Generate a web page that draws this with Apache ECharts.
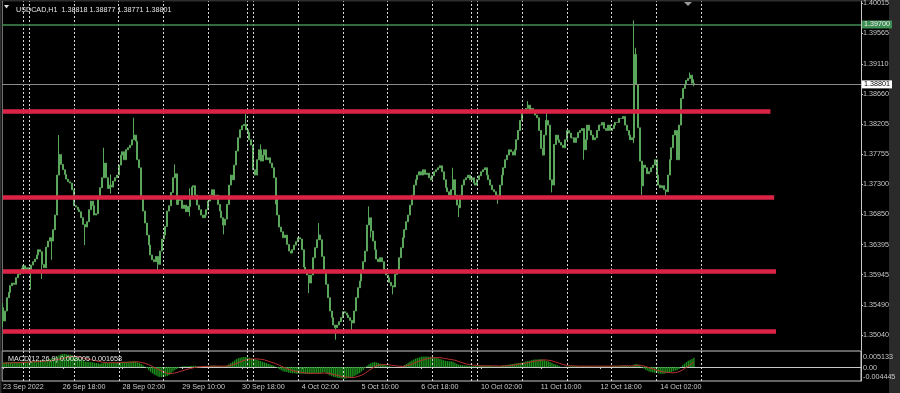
<!DOCTYPE html>
<html><head><meta charset="utf-8">
<script src="https://cdn.jsdelivr.net/npm/echarts@6/dist/echarts.min.js"></script>
<style>html,body{margin:0;padding:0;background:#000;}#c{width:900px;height:393px;}</style>
</head><body><div id="c"></div>
<script>
// ---------------- data ----------------
const symbolName = 'USDCAD,H1';
const firstBarTime = '2022-09-23T10:00:00Z';   // first visible H1 bar (broker GMT)
const firstOpen = 1.3545;
const closes = [
1.3525,1.3540,1.3560,1.3568,1.3578,1.3582,1.3580,1.3590,1.3595,1.3598,
1.3604,1.3608,1.3602,1.3605,1.3598,1.3609,1.3614,1.3618,1.3624,1.3632,
1.3629,1.3610,1.3605,1.3636,1.3645,1.3650,1.3645,1.3662,1.3684,1.3744,
1.3775,1.3760,1.3752,1.3745,1.3738,1.3734,1.3732,1.3722,1.3698,1.3696,
1.3692,1.3689,1.3680,1.3670,1.3666,1.3674,1.3692,1.3705,1.3698,1.3684,
1.3686,1.3712,1.3725,1.3740,1.3762,1.3740,1.3724,1.3729,1.3726,1.3735,
1.3740,1.3744,1.3759,1.3774,1.3779,1.3767,1.3782,1.3785,1.3789,1.3797,
1.3804,1.3795,1.3767,1.3755,1.3712,1.3690,1.3672,1.3654,1.3639,1.3624,
1.3617,1.3614,1.3622,1.3610,1.3630,1.3648,1.3654,1.3667,1.3690,1.3698,
1.3718,1.3740,1.3746,1.3700,1.3712,1.3706,1.3694,1.3699,1.3689,1.3697,
1.3712,1.3726,1.3728,1.3714,1.3699,1.3692,1.3684,1.3680,1.3684,1.3692,
1.3705,1.3714,1.3722,1.3708,1.3714,1.3700,1.3690,1.3680,1.3669,1.3678,
1.3700,1.3729,1.3744,1.3737,1.3759,1.3780,1.3800,1.3812,1.3818,1.3820,
1.3812,1.3808,1.3797,1.3789,1.3752,1.3744,1.3767,1.3782,1.3765,1.3774,
1.3782,1.3767,1.3770,1.3762,1.3755,1.3740,1.3710,1.3684,1.3666,1.3659,
1.3650,1.3654,1.3640,1.3630,1.3627,1.3632,1.3639,1.3644,1.3650,1.3648,
1.3632,1.3606,1.3599,1.3594,1.3582,1.3594,1.3620,1.3635,1.3647,1.3654,
1.3647,1.3622,1.3598,1.3580,1.3560,1.3540,1.3530,1.3519,1.3515,1.3519,
1.3524,1.3530,1.3539,1.3537,1.3534,1.3530,1.3526,1.3522,1.3540,1.3560,
1.3575,1.3585,1.3600,1.3614,1.3630,1.3669,1.3680,1.3660,1.3645,1.3632,
1.3618,1.3614,1.3620,1.3614,1.3602,1.3594,1.3590,1.3583,1.3578,1.3576,
1.3595,1.3602,1.3620,1.3635,1.3650,1.3662,1.3674,1.3684,1.3699,1.3714,
1.3729,1.3737,1.3744,1.3749,1.3744,1.3752,1.3745,1.3747,1.3740,1.3737,
1.3743,1.3749,1.3752,1.3755,1.3758,1.3749,1.3737,1.3725,1.3719,1.3714,
1.3722,1.3737,1.3714,1.3699,1.3695,1.3714,1.3729,1.3737,1.3740,1.3744,
1.3737,1.3740,1.3732,1.3729,1.3737,1.3743,1.3749,1.3752,1.3755,1.3744,
1.3737,1.3729,1.3722,1.3719,1.3714,1.3710,1.3729,1.3744,1.3755,1.3767,
1.3774,1.3782,1.3779,1.3774,1.3782,1.3797,1.3811,1.3826,1.3838,1.3841,
1.3844,1.3849,1.3841,1.3844,1.3838,1.3834,1.3830,1.3811,1.3784,1.3774,
1.3804,1.3826,1.3819,1.3737,1.3729,1.3790,1.3804,1.3797,1.3793,1.3789,
1.3785,1.3797,1.3811,1.3807,1.3800,1.3800,1.3793,1.3800,1.3808,1.3811,
1.3814,1.3782,1.3797,1.3819,1.3811,1.3804,1.3797,1.3800,1.3811,1.3819,
1.3819,1.3823,1.3814,1.3811,1.3819,1.3811,1.3814,1.3819,1.3823,1.3823,
1.3829,1.3829,1.3832,1.3819,1.3811,1.3804,1.3797,1.3800,1.3925,1.3880,
1.3815,1.3765,1.3728,1.3759,1.3755,1.3746,1.3749,1.3755,1.3759,1.3767,
1.3744,1.3729,1.3725,1.3728,1.3722,1.3719,1.3744,1.3767,1.3785,1.3804,
1.3811,1.3767,1.3819,1.3859,1.3874,1.3880,1.3886,1.3889,1.3894,1.38818,
1.38801
];
// notable wick extremes: [barIndex, high, low]
const wicks = [
[0,1.3552,1.3516],[15,null,1.3572],[21,null,1.3588],[26,null,1.3617],[30,1.3804,null],
[44,null,1.3639],[54,1.3785,null],[58,1.3745,1.3716],[70,1.3830,null],[83,null,1.3600],
[92,1.3760,null],[100,1.3724,1.3682],[118,null,1.3655],[130,1.3836,null],[138,1.3790,null],
[146,null,1.3700],[164,null,1.3567],[169,1.3672,null],[178,null,1.3497],[187,null,1.3508],
[196,1.3697,null],[197,null,1.3650],[209,null,1.3565],[241,1.3755,null],[244,null,1.3681],
[265,null,1.3701],[281,1.3855,null],[291,1.3838,null],[294,null,1.3718],[311,null,1.3767],
[338,1.3976,1.3792],[339,1.3935,null],[342,null,1.3714],[355,null,1.3711],[368,1.3898,null],
[370,1.38877,1.38771]
];
// MACD(12,26,9) main and signal, in units of 0.0001
const macdMain = [
15,15,16,16,16,17,17,16,16,16,
17,17,18,18,18,19,19,20,20,21,
22,22,21,22,24,26,27,28,30,34,
38,40,42,42,41,40,39,38,36,33,
30,27,24,21,18,17,17,16,15,14,
13,12,11,12,13,13,13,13,14,14,
14,15,16,16,17,17,17,17,18,18,
19,18,16,13,10,6,1,-4,-10,-15,
-20,-24,-27,-30,-32,-32,-31,-30,-28,-25,
-20,-14,-9,-6,-3,0,2,3,3,3,
3,4,4,4,3,3,3,3,3,4,
4,4,4,4,4,3,3,2,2,3,
5,9,13,17,21,25,28,30,31,32,
32,31,30,28,26,25,23,21,19,17,
15,13,11,9,7,4,1,-3,-7,-10,
-13,-15,-16,-18,-19,-20,-20,-21,-21,-21,
-21,-21,-22,-22,-22,-21,-20,-19,-19,-20,
-20,-18,-16,-19,-23,-26,-29,-31,-32,-34,
-35,-36,-37,-37,-36,-35,-34,-32,-29,-26,
-23,-19,-14,-9,-3,4,9,12,15,16,
15,13,11,9,8,6,4,3,1,0,
0,0,0,1,3,6,10,14,18,21,
24,27,29,31,33,34,34,34,33,33,
32,31,30,28,26,24,22,20,19,19,
19,17,14,11,8,7,6,5,5,4,
4,4,3,3,3,4,4,4,4,4,
4,4,3,3,3,3,3,4,5,6,
7,8,9,10,11,12,13,14,15,16,
18,19,20,22,23,24,24,25,25,24,
22,20,19,16,13,10,8,6,3,1,
0,1,2,2,3,3,3,3,3,3,
3,3,3,3,3,2,2,3,3,3,
3,3,3,3,3,3,3,4,4,4,
4,4,4,4,4,3,3,3,8,10,
8,5,1,-4,-8,-11,-14,-16,-17,-18,
-19,-20,-21,-21,-21,-20,-19,-17,-16,-13,
-11,-10,-6,0,6,11,16,20,23,26,
30.05
];
const macdSignal = [
12,12,13,13,13,14,14,14,14,15,
15,15,15,16,16,16,17,17,17,18,
18,19,19,20,20,21,21,22,23,24,
25,26,28,30,31,32,33,33,34,34,
33,32,31,29,27,26,25,23,22,21,
20,18,17,16,15,15,14,14,14,14,
14,14,14,15,15,15,15,16,16,16,
16,17,17,16,15,14,12,10,8,5,
2,-1,-4,-7,-10,-13,-15,-18,-20,-21,
-21,-20,-19,-18,-16,-14,-12,-10,-8,-6,
-5,-3,-2,-1,0,0,1,1,2,2,
2,3,3,3,3,3,3,3,3,3,
3,4,5,7,9,11,14,16,19,21,
23,24,25,26,26,26,26,26,25,24,
23,21,19,17,15,13,11,9,6,3,
0,-2,-5,-7,-9,-11,-13,-14,-15,-16,
-17,-18,-19,-19,-20,-20,-20,-20,-20,-20,
-20,-20,-19,-19,-20,-21,-22,-23,-25,-26,
-28,-29,-31,-32,-32,-33,-33,-33,-33,-32,
-30,-28,-26,-23,-20,-16,-11,-7,-3,1,
4,6,7,8,8,8,8,7,6,5,
4,3,3,2,2,3,4,5,7,9,
12,14,17,19,21,24,25,27,28,29,
30,30,30,30,30,29,28,27,26,25,
24,23,22,20,18,16,14,12,10,9,
8,7,6,5,5,4,4,4,4,4,
4,4,4,4,4,4,3,3,4,4,
4,5,5,6,7,8,9,10,11,12,
13,14,15,17,18,19,20,21,22,23,
23,22,22,21,20,18,16,14,12,10,
8,7,5,4,4,4,4,3,3,3,
3,3,3,3,3,3,3,3,3,3,
3,3,3,3,3,3,3,3,3,3,
3,3,4,4,4,4,4,4,4,5,
6,6,5,4,2,0,-2,-4,-6,-8,
-10,-12,-13,-15,-16,-17,-17,-18,-18,-18,
-18,-17,-15,-13,-9,-5,-1,3,7,11,
16.58
];
const xTickLabels = ['23 Sep 2022','26 Sep 18:00','28 Sep 02:00','29 Sep 10:00','30 Sep 18:00','4 Oct 02:00',
  '5 Oct 10:00','6 Oct 18:00','10 Oct 02:00','11 Oct 10:00','12 Oct 18:00','14 Oct 02:00'];
const xTickEvery = 32;
const yTickValues = [1.40015,1.39565,1.39110,1.38660,1.38205,1.37755,1.37300,1.36850,1.36395,1.35945,1.35490,1.35040];
const macdTickValues = [0.005133, 0, -0.004445];
const supportLevels = [1.3840, 1.3710, 1.3600, 1.3510];
const supportEndBars = [411, 413, 414, 414];
const alertLevel = 1.39700;

// ---------------- build ----------------
const FONT = 'Liberation Sans';
const TXT = '#c8c8c8';
const totalSlots = 460;
const H = 3600e3;
const lastIdx = closes.length - 1;
const times = [];
let t = Date.parse(firstBarTime);
for (let i = 0; i < totalSlots; i++) {
  times.push(t);
  t += H;
  const d = new Date(t);
  if (i < lastIdx && d.getUTCDay() === 5 && d.getUTCHours() === 21) t += 48 * H; // weekend gap
}
const cats = times.map(v => new Date(v).toISOString().slice(0, 16).replace('T', ' '));
const daySeps = [];
for (let i = 1; i < totalSlots; i++) {
  if (new Date(times[i]).getUTCDate() !== new Date(times[i - 1]).getUTCDate() && i <= lastIdx + 24) daySeps.push(i);
}
const wickMap = {};
wicks.forEach(w => { wickMap[w[0]] = w; });
const candles = closes.map((c, i) => {
  const o = i === 0 ? firstOpen : closes[i - 1];
  let h = Math.max(o, c), l = Math.min(o, c);
  const w = wickMap[i];
  if (w) { if (w[1] != null) h = Math.max(h, w[1]); if (w[2] != null) l = Math.min(l, w[2]); }
  return [o, c, l, h];
});
const last = candles[lastIdx];
const lastClose = closes[lastIdx];

const sepStyle = { color: '#d8d8d8', width: 1, type: [2, 2] };
const redStyle = { color: '#dc2346', width: 4.5, type: 'solid' };
const mainMarks = [];
daySeps.forEach(i => mainMarks.push({ xAxis: i, lineStyle: sepStyle }));
supportLevels.forEach((p, k) => mainMarks.push([{ coord: [0, p], lineStyle: redStyle }, { coord: [supportEndBars[k], p] }]));
mainMarks.push({ yAxis: alertLevel, lineStyle: { color: '#3f8f55', width: 1.6, type: 'solid' },
  label: { show: true, position: 'end', distance: 1, formatter: alertLevel.toFixed(5), backgroundColor: '#3f8f55',
    color: '#eeeeee', padding: [1, 2, 0, 2], fontSize: 7.2, fontFamily: FONT } });
mainMarks.push({ yAxis: lastClose, lineStyle: { color: '#8a8a8a', width: 1, type: 'solid' },
  label: { show: true, position: 'end', distance: 1, formatter: lastClose.toFixed(5), backgroundColor: '#ffffff',
    color: '#000000', padding: [1, 2, 0, 2], fontSize: 7.2, fontFamily: FONT } });
const macdMarks = daySeps.map(i => ({ xAxis: i, lineStyle: sepStyle }));

const chart = echarts.init(document.getElementById('c'), null, { renderer: 'canvas' });
chart.setOption({
  animation: false,
  backgroundColor: '#000',
  title: [
    { text: symbolName + '  ' + [last[0], last[3], last[2], last[1]].map(v => v.toFixed(5)).join(' '),
      left: 11, top: 2, textStyle: { color: '#e6e6e6', fontSize: 7.2, fontWeight: 'normal', fontFamily: FONT } },
    { text: 'MACD(12,26,9) ' + (macdMain[lastIdx] / 1e4).toFixed(6) + ' ' + (macdSignal[lastIdx] / 1e4).toFixed(6),
      left: 3, top: 351, textStyle: { color: '#e6e6e6', fontSize: 7.2, fontWeight: 'normal', fontFamily: FONT } }
  ],
  grid: [
    { left: 2, top: 1, width: 859, height: 349 },
    { left: 2, top: 351, width: 859, height: 30, show: true, borderColor: '#c8c8c8', borderWidth: 1, backgroundColor: 'transparent' }
  ],
  xAxis: [
    { type: 'category', gridIndex: 0, data: cats, boundaryGap: true, axisLine: { show: false }, axisTick: { show: false },
      axisLabel: { show: false }, splitLine: { show: false } },
    { type: 'category', gridIndex: 1, data: cats, boundaryGap: true,
      axisLine: { show: true, lineStyle: { color: '#c8c8c8' } },
      axisTick: { show: true, alignWithLabel: true, length: 2, lineStyle: { color: '#c8c8c8' },
        interval: i => i % xTickEvery === 0 && i / xTickEvery < xTickLabels.length },
      axisLabel: { show: true, color: TXT, fontSize: 7.2, fontFamily: FONT, align: 'left', margin: 3,
        interval: i => i % xTickEvery === 0 && i / xTickEvery < xTickLabels.length,
        formatter: (v, i) => (i % xTickEvery === 0 ? (xTickLabels[i / xTickEvery] || '') : '') },
      splitLine: { show: false } }
  ],
  yAxis: [
    { type: 'value', gridIndex: 0, position: 'right', min: 1.34815, max: 1.40049, splitLine: { show: false },
      axisLine: { show: true, lineStyle: { color: '#c8c8c8' } },
      axisTick: { show: true, customValues: yTickValues, length: 2, lineStyle: { color: '#c8c8c8' } },
      axisLabel: { customValues: yTickValues, formatter: v => v.toFixed(5), color: TXT, fontSize: 7.2, fontFamily: FONT, margin: 2 } },
    { type: 'value', gridIndex: 1, position: 'right', min: macdTickValues[2], max: macdTickValues[0], splitLine: { show: false },
      axisLine: { show: true, lineStyle: { color: '#c8c8c8' } }, axisTick: { show: false }, axisLabel: { show: false } }
  ],
  series: [
    { type: 'candlestick', xAxisIndex: 0, yAxisIndex: 0, data: candles, barWidth: 1.5,
      itemStyle: { color: '#b8e0b8', color0: '#357a35', borderColor: '#5aa65a', borderColor0: '#5aa65a', borderWidth: 1 },
      markLine: { silent: true, precision: 5, symbol: ['none', 'none'], label: { show: false }, animation: false, data: mainMarks } },
    { type: 'bar', xAxisIndex: 1, yAxisIndex: 1, data: macdMain.map(v => v / 1e4), barCategoryGap: '25%',
      itemStyle: { color: '#1d8f1d' },
      markLine: { silent: true, precision: 6, symbol: ['none', 'none'], label: { show: false }, animation: false, data: macdMarks } },
    { type: 'line', xAxisIndex: 1, yAxisIndex: 1, data: macdSignal.map(v => v / 1e4), symbol: 'none',
      lineStyle: { color: '#b83030', width: 1 } }
  ]
});

const yPix = v => chart.convertToPixel({ yAxisIndex: 1 }, v);
const macdLabelShift = [6, 1, -3.5];
chart.setOption({
  graphic: [
    { type: 'rect', shape: { x: 0, y: 0, width: 900, height: 1.5 }, style: { fill: '#2e2e2e' }, silent: true },
    { type: 'rect', shape: { x: 0, y: 0, width: 1.5, height: 393 }, style: { fill: '#2e2e2e' }, silent: true },
    { type: 'rect', shape: { x: 889, y: 0, width: 11, height: 393 }, style: { fill: '#2a2a2a' }, silent: true },
    { type: 'line', shape: { x1: 2.5, y1: 1, x2: 2.5, y2: 351 }, style: { stroke: '#707070', lineWidth: 1 }, silent: true },
    { type: 'polygon', shape: { points: [[4, 5], [9, 5], [6.5, 8.5]] }, style: { fill: '#dddddd' }, silent: true },
    { type: 'polygon', shape: { points: [[684, 2], [692, 2], [688, 6]] }, style: { fill: '#9a9a9a' }, silent: true }
  ].concat(macdTickValues.map((v, k) => ({
    type: 'text', x: 863, y: yPix(v) + macdLabelShift[k], silent: true,
    style: { text: v === 0 ? '0.00' : v.toFixed(6), fill: TXT, font: '7.2px ' + FONT, verticalAlign: 'middle', align: 'left' }
  })))
});
</script>
</body></html>
